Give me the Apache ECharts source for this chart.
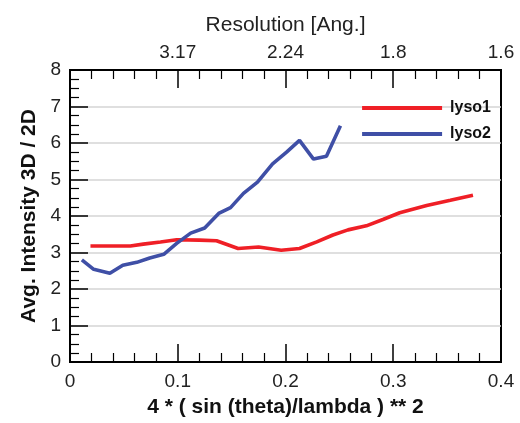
<!DOCTYPE html>
<html><head><meta charset="utf-8">
<script src="https://cdn.jsdelivr.net/npm/echarts@6/dist/echarts.min.js"></script>
<style>html,body{margin:0;padding:0;background:#fff}#c{width:520px;height:423px}</style>
</head><body><div id="c"></div>
<script>
const lyso1 = [[0.019,3.18],[0.056,3.18],[0.068,3.23],[0.084,3.29],[0.099,3.35],[0.12,3.34],[0.136,3.32],[0.156,3.11],[0.175,3.15],[0.196,3.06],[0.213,3.11],[0.229,3.29],[0.244,3.48],[0.258,3.62],[0.275,3.73],[0.291,3.91],[0.306,4.09],[0.331,4.29],[0.353,4.43],[0.374,4.57]];
const lyso2 = [[0.011,2.80],[0.022,2.54],[0.037,2.43],[0.049,2.65],[0.062,2.73],[0.074,2.85],[0.087,2.95],[0.099,3.25],[0.112,3.53],[0.125,3.67],[0.138,4.07],[0.149,4.23],[0.161,4.62],[0.174,4.93],[0.188,5.43],[0.201,5.75],[0.213,6.07],[0.226,5.56],[0.238,5.64],[0.251,6.47]];
const topTickValues = [0.1, 0.2, 0.3, 0.4];
const topTickLabels = ['3.17', '2.24', '1.8', '1.6'];
const seriesNames = ['lyso1', 'lyso2'];
const seriesColors = ['#ef1f26', '#3f4fa6'];

const font = 'Liberation Sans, Arial, Helvetica, sans-serif';
const chart = echarts.init(document.getElementById('c'));
const tickCommon = {show: true, inside: true, length: 18, lineStyle: {color: '#000', width: 1.5}};
const minorCommon = {show: true, length: 9, lineStyle: {color: '#000', width: 1.2}};
chart.setOption({
  animation: false,
  grid: {left: 70, right: 19, top: 70, bottom: 60, show: true, borderColor: '#000', borderWidth: 2, backgroundColor: 'transparent'},
  legend: {
    right: 24, top: 95, orient: 'vertical', itemWidth: 80, itemHeight: 4, itemGap: 10,
    icon: 'rect',
    textStyle: {fontFamily: font, fontSize: 16, fontWeight: 'bold', color: '#111', padding: [0,0,0,3]},
    data: seriesNames
  },
  xAxis: [{
    type: 'value', min: 0, max: 0.4, interval: 0.1, position: 'bottom',
    name: '4 * ( sin (theta)/lambda ) ** 2', nameLocation: 'middle', nameGap: 35,
    nameTextStyle: {fontFamily: font, fontSize: 21, fontWeight: 'bold', color: '#111'},
    axisLine: {lineStyle: {color: '#000', width: 2}},
    axisTick: tickCommon, minorTick: Object.assign({splitNumber: 5}, minorCommon),
    axisLabel: {fontFamily: font, fontSize: 19, color: '#222', margin: 10, formatter: v => String(+v.toFixed(2))},
    splitLine: {show: false}
  }, {
    type: 'value', min: 0, max: 0.4, interval: 0.1, position: 'top',
    name: 'Resolution [Ang.]', nameLocation: 'middle', nameGap: 34,
    nameTextStyle: {fontFamily: font, fontSize: 21, color: '#222'},
    axisLine: {lineStyle: {color: '#000', width: 2}},
    axisTick: tickCommon, minorTick: Object.assign({splitNumber: 5}, minorCommon),
    axisLabel: {fontFamily: font, fontSize: 19, color: '#222', margin: 8, formatter: v => {
      const i = topTickValues.findIndex(t => Math.abs(t - v) < 1e-9);
      return i >= 0 ? topTickLabels[i] : '';
    }},
    splitLine: {show: false}
  }],
  yAxis: {
    type: 'value', min: 0, max: 8, interval: 1,
    name: 'Avg. Intensity 3D / 2D', nameLocation: 'middle', nameGap: 27, nameRotate: 90,
    nameTextStyle: {fontFamily: font, fontSize: 21, fontWeight: 'bold', color: '#111'},
    axisLine: {lineStyle: {color: '#000', width: 2}},
    axisTick: tickCommon, minorTick: Object.assign({splitNumber: 4}, minorCommon),
    axisLabel: {fontFamily: font, fontSize: 19, color: '#222', margin: 9},
    splitLine: {show: true, lineStyle: {color: '#d4d4d4', width: 1.5}}
  },
  series: [{
    name: seriesNames[0], type: 'line', data: lyso1, showSymbol: false, symbol: 'none',
    lineStyle: {color: seriesColors[0], width: 3.6}, itemStyle: {color: seriesColors[0]}, z: 3
  }, {
    name: seriesNames[1], type: 'line', data: lyso2, showSymbol: false, symbol: 'none',
    lineStyle: {color: seriesColors[1], width: 3.6}, itemStyle: {color: seriesColors[1]}, z: 4
  }]
});
</script></body></html>
